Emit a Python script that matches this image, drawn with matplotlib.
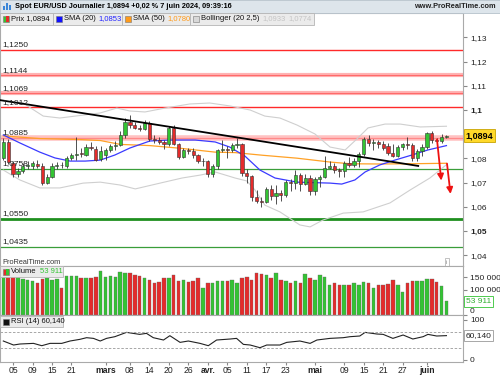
import matplotlib.pyplot as plt
from matplotlib.patches import Rectangle
from matplotlib import font_manager
import matplotlib.transforms as mtransforms
import pandas as pd

# daily EUR/USD candles, 1 Feb -> 7 Jun 2024 (trading days)
dates = pd.bdate_range("2024-02-01", "2024-06-07")

opens = [1.0800, 1.0868, 1.0782, 1.0735, 1.0748, 1.0770, 1.0770, 1.0778, 1.0768, 1.0700,
         1.0725, 1.0768, 1.0774, 1.0770, 1.0803, 1.0816, 1.0822, 1.0816, 1.0848, 1.0838,
         1.0796, 1.0815, 1.0836, 1.0852, 1.0855, 1.0895, 1.0950, 1.0938, 1.0926, 1.0922,
         1.0948, 1.0882, 1.0878, 1.0866, 1.0860, 1.0925, 1.0858, 1.0805, 1.0835, 1.0830,
         1.0815, 1.0788, 1.0790, 1.0735, 1.0768, 1.0835, 1.0838, 1.0833, 1.0857, 1.0858,
         1.0740, 1.0727, 1.0640, 1.0625, 1.0620, 1.0672, 1.0643, 1.0656, 1.0650, 1.0702,
         1.0697, 1.0730, 1.0693, 1.0718, 1.0665, 1.0713, 1.0725, 1.0762, 1.0770, 1.0753,
         1.0748, 1.0783, 1.0771, 1.0790, 1.0818, 1.0882, 1.0865, 1.0868, 1.0858, 1.0853,
         1.0822, 1.0810, 1.0847, 1.0860, 1.0855, 1.0800, 1.0832, 1.0848, 1.0903, 1.0878,
         1.0870, 1.0890]
highs = [1.0885, 1.0880, 1.0790, 1.0760, 1.0780, 1.0788, 1.0790, 1.0792, 1.0780, 1.0735,
         1.0782, 1.0785, 1.0785, 1.0810, 1.0823, 1.0888, 1.0842, 1.0860, 1.0866, 1.0850,
         1.0850, 1.0845, 1.0860, 1.0870, 1.0915, 1.0965, 1.0981, 1.0950, 1.0940, 1.0960,
         1.0955, 1.0895, 1.0890, 1.0875, 1.0935, 1.0940, 1.0865, 1.0843, 1.0845, 1.0842,
         1.0820, 1.0800, 1.0795, 1.0775, 1.0840, 1.0876, 1.0850, 1.0865, 1.0885, 1.0865,
         1.0755, 1.0730, 1.0668, 1.0640, 1.0680, 1.0690, 1.0690, 1.0670, 1.0710, 1.0715,
         1.0752, 1.0738, 1.0735, 1.0730, 1.0725, 1.0730, 1.0812, 1.0790, 1.0780, 1.0760,
         1.0790, 1.0805, 1.0800, 1.0825, 1.0888, 1.0895, 1.0880, 1.0878, 1.0870, 1.0862,
         1.0860, 1.0855, 1.0865, 1.0888, 1.0865, 1.0838, 1.0860, 1.0910, 1.0915, 1.0885,
         1.0902, 1.0898]
lows = [1.0795, 1.0778, 1.0722, 1.0725, 1.0740, 1.0755, 1.0758, 1.0760, 1.0690, 1.0695,
        1.0720, 1.0758, 1.0762, 1.0762, 1.0795, 1.0792, 1.0805, 1.0812, 1.0835, 1.0790,
        1.0790, 1.0795, 1.0828, 1.0835, 1.0850, 1.0885, 1.0925, 1.0920, 1.0915, 1.0918,
        1.0870, 1.0865, 1.0860, 1.0838, 1.0850, 1.0855, 1.0798, 1.0800, 1.0820, 1.0800,
        1.0780, 1.0768, 1.0725, 1.0725, 1.0755, 1.0825, 1.0800, 1.0825, 1.0845, 1.0728,
        1.0700, 1.0622, 1.0615, 1.0600, 1.0615, 1.0630, 1.0610, 1.0625, 1.0640, 1.0665,
        1.0675, 1.0665, 1.0690, 1.0650, 1.0650, 1.0680, 1.0720, 1.0755, 1.0740, 1.0725,
        1.0723, 1.0765, 1.0765, 1.0765, 1.0812, 1.0850, 1.0835, 1.0845, 1.0835, 1.0815,
        1.0805, 1.0805, 1.0835, 1.0840, 1.0790, 1.0790, 1.0810, 1.0840, 1.0865, 1.0860,
        1.0862, 1.0885]
closes = [1.0868, 1.0785, 1.0735, 1.0748, 1.0768, 1.0772, 1.0780, 1.0770, 1.0700, 1.0725,
          1.0768, 1.0772, 1.0771, 1.0802, 1.0816, 1.0820, 1.0818, 1.0848, 1.0843, 1.0794,
          1.0832, 1.0836, 1.0852, 1.0855, 1.0895, 1.0950, 1.0938, 1.0926, 1.0922, 1.0948,
          1.0880, 1.0876, 1.0866, 1.0860, 1.0925, 1.0858, 1.0805, 1.0835, 1.0832, 1.0815,
          1.0790, 1.0790, 1.0735, 1.0768, 1.0835, 1.0838, 1.0835, 1.0857, 1.0858, 1.0740,
          1.0727, 1.0640, 1.0625, 1.0620, 1.0672, 1.0643, 1.0656, 1.0650, 1.0702, 1.0697,
          1.0730, 1.0693, 1.0718, 1.0665, 1.0713, 1.0725, 1.0762, 1.0770, 1.0753, 1.0748,
          1.0783, 1.0771, 1.0790, 1.0818, 1.0882, 1.0865, 1.0868, 1.0858, 1.0845, 1.0822,
          1.0810, 1.0847, 1.0858, 1.0855, 1.0800, 1.0832, 1.0848, 1.0903, 1.0878, 1.0870,
          1.0890, 1.0894]
volumes = [160000, 165000, 165000, 150000, 143000, 140000, 136000, 127000, 143000, 145000,
           140000, 143000, 108000, 156000, 156000, 153000, 145000, 147000, 145000, 150000,
           176000, 152000, 156000, 150000, 169000, 165000, 167000, 159000, 153000, 147000,
           140000, 127000, 132000, 147000, 147000, 159000, 133000, 140000, 129000, 136000,
           147000, 107000, 127000, 127000, 133000, 133000, 133000, 140000, 127000, 147000,
           151000, 140000, 167000, 163000, 159000, 145000, 167000, 140000, 133000, 125000,
           133000, 127000, 163000, 145000, 140000, 159000, 149000, 119000, 127000, 119000,
           119000, 119000, 127000, 119000, 132000, 127000, 107000, 119000, 119000, 123000,
           140000, 119000, 92000, 127000, 133000, 136000, 133000, 143000, 143000, 132000,
           116000, 53911]

# indicators (candle index, value)
sma20_idx = [0, 3.4, 7.5, 10.6, 13.7, 16.8, 19.9, 22.9, 26, 30.1, 34.2, 39.4, 43.5, 46.5,
             49.6, 52.7, 55.8, 60.3, 67.1, 69.5, 72.2, 74.3, 77.3, 80.4, 83.9, 87.2, 91]
sma20 = [1.0897, 1.0864, 1.0826, 1.0802, 1.0789, 1.0789, 1.0793, 1.0814, 1.0843, 1.0872,
         1.0876, 1.0876, 1.0868, 1.0847, 1.0810, 1.0752, 1.0719, 1.0702, 1.0698, 1.0694,
         1.0711, 1.0744, 1.0773, 1.0793, 1.0814, 1.0835, 1.0853]
sma50_idx = [0, 7.5, 15.7, 19.9, 24, 30.1, 36.3, 43.5, 47.6, 53.3, 60.3, 67.1, 71.2, 77,
             83.9, 91]
sma50 = [1.0893, 1.0882, 1.0878, 1.0874, 1.0858, 1.0853, 1.0842, 1.0826, 1.0824, 1.0813,
         1.0801, 1.0785, 1.0778, 1.0777, 1.0778, 1.0780]
boll_up_idx = [4.0, 5.5, 8.2, 11.6, 16.4, 19.9, 23.3, 26, 29.1, 33.2, 38.3, 42.4, 46.5, 50.7,
               53.7, 56.8, 60.3, 64, 67.1, 70.2, 72.8, 74.9, 78.4, 81.5, 85.6, 91]
boll_up = [1.1030, 1.1010, 1.0975, 1.0967, 1.0979, 1.0988, 1.1008, 1.0996, 1.0992, 1.1008,
           1.1025, 1.1029, 1.1017, 1.1000, 1.0975, 1.0967, 1.0938, 1.0901, 1.0847, 1.0835,
           1.0884, 1.0926, 1.0942, 1.0942, 1.0930, 1.0933]
boll_low_idx = [0, 3.4, 7.5, 11.6, 16.4, 19.9, 24, 27.1, 32.2, 36.7, 40.4, 43.5, 47.6, 50,
                51.7, 53.7, 56.8, 60.9, 63, 65.6, 69.8, 73.9, 79.4, 83.5, 87.6, 91]
boll_low = [1.0752, 1.0711, 1.0678, 1.0678, 1.0698, 1.0702, 1.0690, 1.0674, 1.0698, 1.0719,
            1.0731, 1.0744, 1.0719, 1.0707, 1.0669, 1.0607, 1.0579, 1.0525, 1.0517, 1.0545,
            1.0574, 1.0579, 1.0616, 1.0669, 1.0719, 1.0774]
rsi_idx = [0, 2.1, 3.4, 6.2, 7.9, 9.6, 12, 13.7, 15.7, 17.1, 18.5, 19.9, 21.2, 22.9, 25.3,
           28, 29.4, 30.8, 32.9, 34.2, 36.3, 38, 40.4, 42.1, 43.8, 46.6, 47.9, 49.3, 50.7,
           52.7, 54.1, 56.8, 58.2, 60.9, 63, 64.4, 67.1, 69.8, 71.2, 73.2, 74.3, 76.7, 78,
           80, 82.1, 84.1, 86.2, 87.2, 89, 91]
rsi = [46.7, 36.7, 39.2, 40.8, 35.0, 40.8, 40.8, 46.7, 50.8, 55.0, 53.3, 46.7, 53.3, 57.5,
       68.3, 63.3, 65.8, 55.0, 49.2, 60.0, 43.3, 46.7, 40.8, 35.0, 49.2, 51.7, 53.3, 38.3,
       36.7, 30.0, 36.7, 36.7, 43.3, 46.7, 40.8, 49.2, 53.3, 55.0, 57.5, 59.2, 68.3, 64.2,
       63.3, 53.3, 61.7, 51.7, 57.5, 63.3, 59.2, 60.14]

levels = [1.1250, 1.1144, 1.1069, 1.1012, 1.0885, 1.0758, 1.0550, 1.0435]
level_labels = ["1,1250", "1,1144", "1,1069", "1,1012", "1,0885", "1,0758", "1,0550", "1,0435"]
trend_idx = [-0.7, 85.2]
trend_val = [1.1041, 1.0769]

tick_days = ["2024-02-05", "2024-02-09", "2024-02-15", "2024-02-21", "2024-03-01",
             "2024-03-08", "2024-03-14", "2024-03-20", "2024-03-26", "2024-04-01",
             "2024-04-05", "2024-04-11", "2024-04-17", "2024-04-23", "2024-05-01",
             "2024-05-09", "2024-05-15", "2024-05-21", "2024-05-27", "2024-06-03"]
tick_labels = ["05", "09", "15", "21", "mars", "08", "14", "20", "26", "avr.", "05", "11",
               "17", "23", "mai", "09", "15", "21", "27", "juin"]

GREEN = "#33c433"
RED = "#e52b2b"
W, H = 500, 375

installed = {f.name for f in font_manager.fontManager.ttflist}
plt.rcParams["font.family"] = ["Liberation Sans", "DejaVu Sans"]
if "Liberation Sans Narrow" in installed:
    TITLE_FONT, TITLE_SIZE = ["Liberation Sans Narrow", "Liberation Sans"], 6.3
else:
    TITLE_FONT, TITLE_SIZE = ["Liberation Sans", "DejaVu Sans"], 5.3


def box(x0, y0, x1, y1):
    return [x0 / W, 1 - y1 / H, (x1 - x0) / W, (y1 - y0) / H]


fig = plt.figure(figsize=(5, 3.75), dpi=100)
ax = fig.add_axes(box(0, 13, 463, 266))
axv = fig.add_axes(box(0, 266, 463, 315), sharex=ax)
axr = fig.add_axes(box(0, 315, 463, 362), sharex=ax)

# ---- price panel
x = list(range(len(closes)))
for lv, lab in zip(levels, level_labels):
    if lv in (1.1144, 1.1069):
        ax.axhline(lv, color="#ffb3b3", lw=3.0, zorder=1)
        ax.axhline(lv, color="#ff6a6a", lw=0.8, zorder=1)
    elif lv == 1.0885:
        ax.axhline(lv, color="#ffc2c2", lw=4.0, zorder=1)
        ax.axhline(lv, color="#ff8a8a", lw=0.9, zorder=1)
    elif lv > 1.09:
        ax.axhline(lv, color="#ff2a2a", lw=1.0, zorder=1)
    elif lv == 1.0550:
        ax.axhline(lv, color="#1f8f1f", lw=2.0, zorder=1)
    else:
        ax.axhline(lv, color="#3a9e3a", lw=0.9, zorder=1)
    ax.text(-0.3, lv + 0.0006, lab, fontsize=6, va="bottom", ha="left", color="#222222", zorder=6)

ax.plot(boll_up_idx, boll_up, color="#cfcfcf", lw=0.8, zorder=2)
ax.plot(boll_low_idx, boll_low, color="#cfcfcf", lw=0.8, zorder=2)
ax.plot(sma50_idx, sma50, color="#ffa126", lw=0.9, zorder=2)
ax.plot(sma20_idx, sma20, color="#3a3aff", lw=0.9, zorder=2)
ax.plot(trend_idx, trend_val, color="black", lw=1.3, zorder=5)

for i in x:
    o, h, l, c = opens[i], highs[i], lows[i], closes[i]
    ax.vlines(i, l, h, color="#333333", lw=0.6, zorder=3)
    ax.add_patch(Rectangle((i - 0.33, min(o, c)), 0.66, max(abs(c - o), 0.00025),
                           facecolor=GREEN if c >= o else RED, edgecolor="#333333",
                           lw=0.4, zorder=4))

arrow = dict(arrowstyle="-|>", color="#ee1111", lw=1.3, mutation_scale=9)
ax.annotate("", xy=(90.0, 1.0697), xytext=(89.0, 1.0890), arrowprops=arrow, zorder=6)
ax.annotate("", xy=(91.9, 1.0642), xytext=(91.05, 1.0790), arrowprops=arrow, zorder=6)

ax.set_ylim(1.03554, 1.1401)
ax.set_xlim(-0.68, 94.4)
ax.yaxis.tick_right()
yt = [1.04, 1.05, 1.06, 1.07, 1.08, 1.10, 1.11, 1.12, 1.13]
ax.set_yticks(yt)
ax.set_yticklabels([f"{v:.2f}".rstrip("0").replace(".", ",") for v in yt])
for t in ax.get_yticklabels():
    if t.get_text() in ("1,1", "1,05"):
        t.set_fontweight("bold")
ax.text(0.005, 0.008, "ProRealTime.com", transform=ax.transAxes, fontsize=5.3, color="#333333")
ax.text(0.965, 0.005, "i", transform=ax.transAxes, fontsize=4.5, color="#888888",
        ha="center", va="bottom",
        bbox=dict(boxstyle="square,pad=0.25", fc="white", ec="#aaaaaa", lw=0.5))

# ---- volume panel
vol_colors = [GREEN if closes[i] >= opens[i] else RED for i in x]
axv.bar(x, volumes, width=0.72, color=vol_colors, edgecolor="#666666", lw=0.25)
axv.set_ylim(0, 194000)
axv.yaxis.tick_right()
vt = [0, 100000, 150000]
axv.set_yticks(vt)
axv.set_yticklabels([f"{v:,}".replace(",", " ") for v in vt])
axv.get_yticklabels()[0].set_va("bottom")

# ---- RSI panel
axr.plot(rsi_idx, rsi, color="#222222", lw=0.8)
axr.axhline(70, color="#999999", lw=0.6, ls=(0, (3, 2)))
axr.axhline(30, color="#999999", lw=0.6, ls=(0, (3, 2)))
axr.set_ylim(-5.75, 111.7)
axr.yaxis.tick_right()
axr.set_yticks([0, 100])
axr.set_yticklabels(["0", "100"])

pos = [dates.get_loc(pd.Timestamp(d)) for d in tick_days]
axr.set_xticks(pos)
axr.set_xticklabels(tick_labels)
for t in axr.get_xticklabels():
    if t.get_text() in ("mars", "avr.", "mai", "juin"):
        t.set_fontweight("bold")

for a in (ax, axv, axr):
    a.tick_params(axis="y", labelsize=6, length=3, pad=2, color="#888888",
                  labelcolor="#222222", right=True, left=False)
    for s in a.spines.values():
        s.set_color("#aaaaaa")
        s.set_linewidth(0.8)
for a in (ax, axv):
    a.tick_params(axis="x", bottom=False, labelbottom=False)
axr.tick_params(axis="x", labelsize=6.2, length=2, pad=0.8, color="#888888",
                labelcolor="#222222", direction="out")

# last-value tags on the right
blend = lambda a: mtransforms.blended_transform_factory(a.transAxes, a.transData)
ax.text(1.006, closes[-1], "1,0894", transform=blend(ax), fontsize=6.5, weight="bold",
        va="center", ha="left",
        bbox=dict(boxstyle="square,pad=0.2", fc="#ffd92a", ec="#c9a400", lw=0.6))
axv.text(1.006, volumes[-1], "53 911", transform=blend(axv), fontsize=6, color="#2fae2f",
         va="center", ha="left",
         bbox=dict(boxstyle="square,pad=0.2", fc="white", ec="#33c433", lw=0.6))
axr.text(1.006, rsi[-1], "60,140", transform=blend(axr), fontsize=6, color="#222222",
         va="center", ha="left",
         bbox=dict(boxstyle="square,pad=0.2", fc="white", ec="#999999", lw=0.6))

# ---- title bar and legend boxes
fig.patches.append(Rectangle((0, 1 - 13 / H), 1, 13 / H, transform=fig.transFigure,
                             fc="#dde5eb", ec="#b6c2cb", lw=0.6))
for k, hgt in enumerate([4, 7, 5]):
    fig.patches.append(Rectangle(((3 + 3 * k) / W, 1 - 10 / H), 2 / W, hgt / H,
                                 transform=fig.transFigure, fc="#3a86d8", ec="none"))
fig.text(15 / W, 1 - 6.5 / H, "Spot EUR/USD Journalier 1,0894 +0,02 % 7 juin 2024, 09:39:16",
         fontsize=TITLE_SIZE, family=TITLE_FONT, weight="bold", va="center", ha="left")
fig.text(496 / W, 1 - 6.5 / H, "www.ProRealTime.com", fontsize=TITLE_SIZE, family=TITLE_FONT,
         weight="bold", va="center", ha="right", color="#222222")

renderer = fig.canvas.get_renderer()


def legend_box(x0, y0, x1, y1):
    fig.patches.append(Rectangle((x0 / W, 1 - y1 / H), (x1 - x0) / W, (y1 - y0) / H,
                                 transform=fig.transFigure, fc="#ebebeb", ec="#b5b5b5",
                                 lw=0.6, zorder=10))


def square(x0, y0, color, color2=None):
    fig.patches.append(Rectangle((x0 / W, 1 - (y0 + 6) / H), 6 / W, 6 / H,
                                 transform=fig.transFigure, fc=color, ec="#777777",
                                 lw=0.4, zorder=11))
    if color2:
        fig.patches.append(Rectangle(((x0 + 3) / W, 1 - (y0 + 6) / H), 3 / W, 6 / H,
                                     transform=fig.transFigure, fc=color2, ec="none",
                                     zorder=11))


def label_run(px, py, parts):
    # parts: (text, colour); each piece starts after the previous one
    for s, color in parts:
        t = fig.text(px / W, 1 - py / H, s, fontsize=5.5, color=color, va="center",
                     ha="left", zorder=12)
        px += t.get_window_extent(renderer).width + 3


for seg in [(0, 53), (53, 122), (122, 190), (190, 314)]:
    legend_box(seg[0], 13, seg[1], 25)
square(3, 16, GREEN, RED)
label_run(11, 19, [("Prix 1,0894", "#111111")])
square(56, 16, "#1010ff")
label_run(64, 19, [("SMA (20)", "#111111"), ("1,0853", "#2222ff")])
square(125, 16, "#ff9a1a")
label_run(133, 19, [("SMA (50)", "#111111"), ("1,0780", "#ff9a1a")])
square(193, 16, "#d8d8d8")
label_run(201, 19, [("Bollinger (20 2,5)", "#111111"), ("1,0933", "#c4c4c4"),
                    ("1,0774", "#c4c4c4")])

legend_box(0, 266, 63, 277)
square(3, 268.5, RED, GREEN)
label_run(11, 271.5, [("Volume", "#111111"), ("53 911", "#33c433")])
legend_box(0, 316, 63, 327)
square(3, 318.5, "#111111")
label_run(11, 321.5, [("RSI (14) 60,140", "#111111")])

fig.savefig("out.png", dpi=100)
